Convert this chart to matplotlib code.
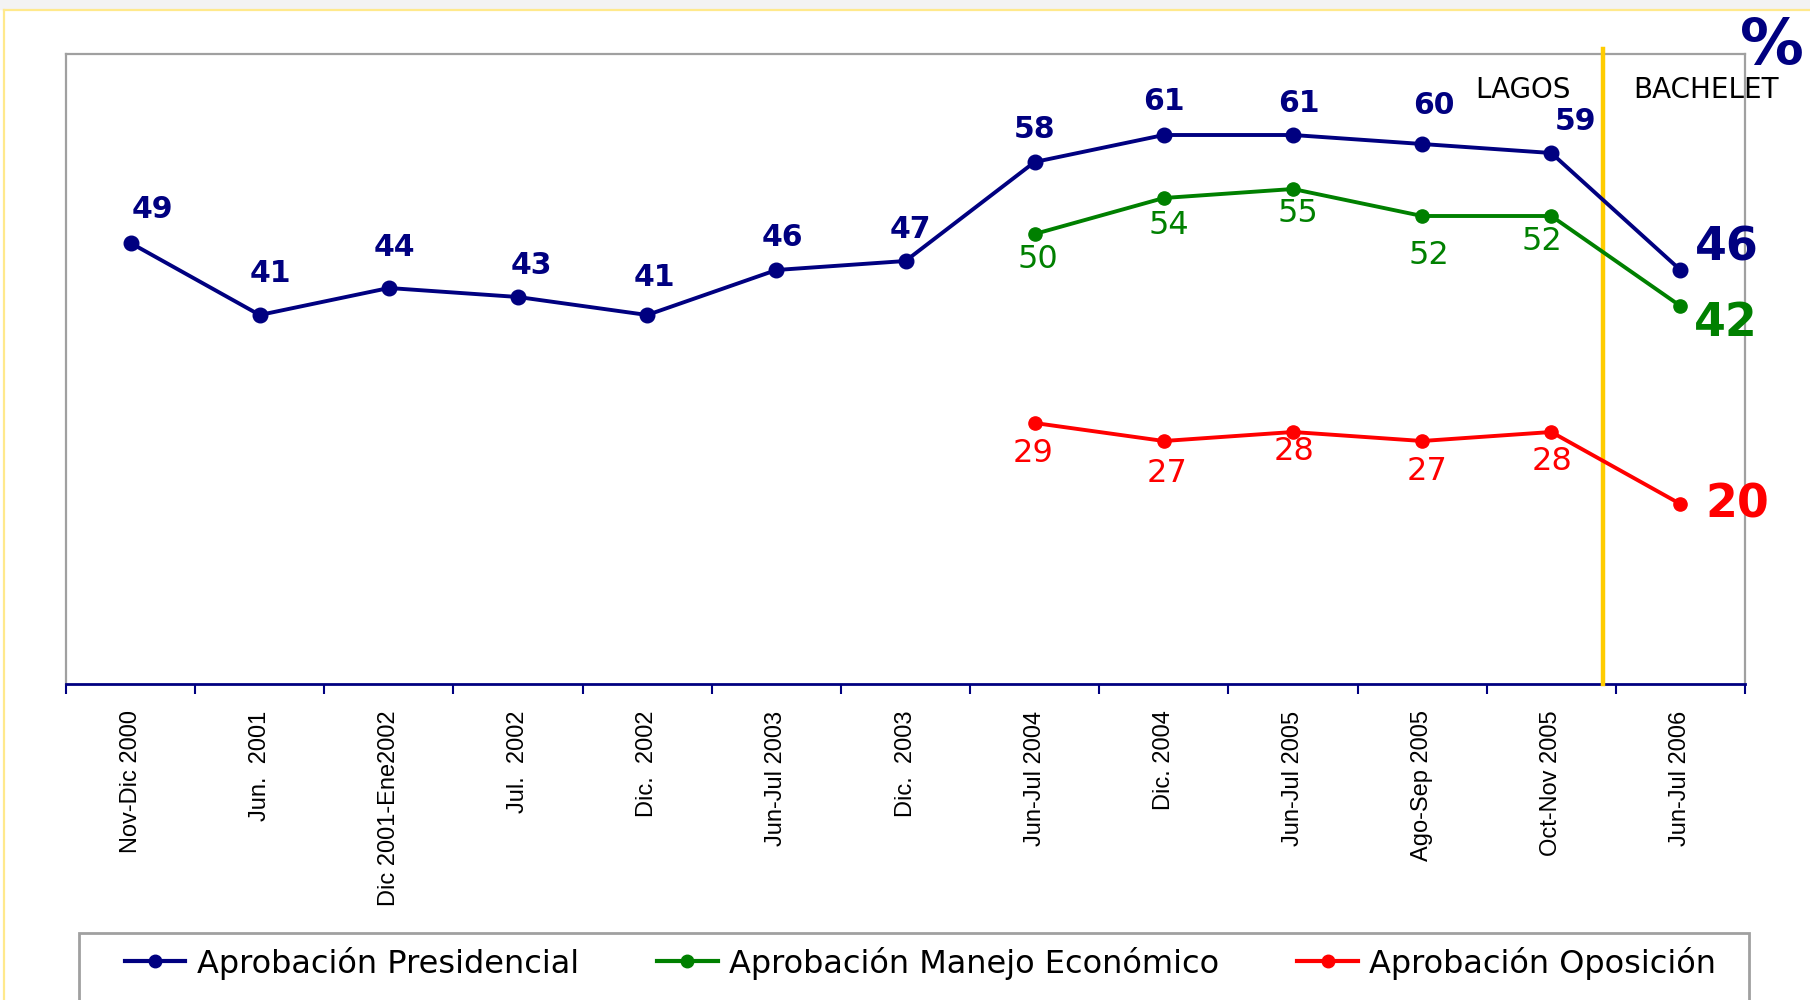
import numpy as np
import matplotlib.pyplot as plt
from matplotlib.lines import Line2D
from matplotlib.patches import Rectangle

# ---------------------------
# DATA
# ---------------------------
periods = [
    "Nov-Dic 2000", "Jun.  2001", "Dic 2001-Ene2002", "Jul.  2002", "Dic.  2002",
    "Jun-Jul 2003", "Dic.  2003", "Jun-Jul 2004", "Dic. 2004", "Jun-Jul 2005",
    "Ago-Sep 2005", "Oct-Nov 2005", "Jun-Jul 2006",
]
presidencial = [49, 41, 44, 43, 41, 46, 47, 58, 61, 61, 60, 59, 46]
economico = [np.nan] * 7 + [50, 54, 55, 52, 52, 42]
oposicion = [np.nan] * 7 + [29, 27, 28, 27, 28, 20]

series_names = ["Aprobación Presidencial", "Aprobación Manejo Económico", "Aprobación Oposición"]
eras = ["LAGOS", "BACHELET"]

# ---------------------------
# STYLE / LAYOUT
# ---------------------------
NAVY = "#000080"
GREEN = "#008000"
RED = "#FF0000"
GOLD = "#FFCC00"
GRAY = "#A0A0A0"
DIVIDER_X = 11.4
PX = 0.72  # px -> pt at dpi 100
W, H = 1810, 1000

# label offsets in px (dx right, dy down)
pres_off = [(22, -34), (11, -42), (5, -41), (13, -31), (7, -38), (6, -33), (5, -32),
            (0, -32), (0, -34), (6, -32), (12, -39), (24, -32), (46, -22)]
eco_off = [None] * 7 + [(3, 25), (5, 28), (5, 25), (7, 39), (-9, 25), (45, 17)]
opo_off = [None] * 7 + [(-2, 31), (3, 33), (1, 20), (5, 31), (1, 30), (57, 1)]

plt.rcParams["font.family"] = ["DejaVu Sans"]

fig = plt.figure(figsize=(W / 100, H / 100), dpi=100)
ax = fig.add_axes([66 / W, 1 - 684 / H, (1745 - 66) / W, (684 - 54) / H])

x = np.arange(len(periods))

ax.plot(x, presidencial, color=NAVY, lw=2.8, marker="o", ms=10.5, zorder=4)
ax.plot(x, economico, color=GREEN, lw=2.8, marker="o", ms=9.5, zorder=4)
ax.plot(x, oposicion, color=RED, lw=2.8, marker="o", ms=9.5, zorder=4)


def put_labels(vals, offs, color, small_size, small_bold):
    last = len(vals) - 1
    for i, v in enumerate(vals):
        if np.isnan(v):
            continue
        dx, dy = offs[i]
        big = i == last
        ax.annotate(f"{v:.0f}", (x[i], v), xytext=(dx * PX, -dy * PX),
                    textcoords="offset points", ha="center", va="center",
                    color=color, fontsize=33 if big else small_size,
                    fontweight="bold" if (big or small_bold) else "normal",
                    annotation_clip=False, zorder=5)


put_labels(np.array(presidencial, float), pres_off, NAVY, 21.5, True)
put_labels(np.array(economico, float), eco_off, GREEN, 23, False)
put_labels(np.array(oposicion, float), opo_off, RED, 23, False)

ax.set_xlim(-0.5, len(periods) - 0.5)
ax.set_ylim(0, 70)

# divider between presidencies
ax.plot([DIVIDER_X, DIVIDER_X], [0, 70.6], color=GOLD, lw=3.2, clip_on=False, zorder=3)
ax.text(DIVIDER_X - 0.62, 66.0, eras[0], ha="center", va="center", fontsize=20, color="black")
ax.text(DIVIDER_X + 0.8, 66.0, eras[1], ha="center", va="center", fontsize=20, color="black")

# axis styling
for s in ["left", "top", "right"]:
    ax.spines[s].set_color(GRAY)
    ax.spines[s].set_linewidth(1.6)
ax.spines["bottom"].set_color(NAVY)
ax.spines["bottom"].set_linewidth(2)
ax.set_yticks([])
ax.set_xticks(np.arange(-0.5, len(periods), 1))
ax.set_xticklabels([])
ax.tick_params(axis="x", which="major", direction="out", length=7, width=1.5, color=NAVY)
ax.set_xticks(x, minor=True)
ax.set_xticklabels(periods, minor=True, rotation=90, fontsize=17,
                   family=["Liberation Sans", "DejaVu Sans"])
ax.tick_params(axis="x", which="minor", length=0, pad=19)

# percent sign
fig.text(1772 / W, 1 - 46 / H, "%", ha="center", va="center",
         fontsize=46, fontweight="bold", color=NAVY)

# page remnants: grey strip on top and pale yellow frame
fig.patches.append(Rectangle((0, 1 - 9 / H), 1, 9 / H, transform=fig.transFigure,
                             color="#F3F3F3", zorder=0))
fig.lines.append(Line2D([4 / W, 1], [1 - 10 / H, 1 - 10 / H],
                        transform=fig.transFigure, color="#FFE98C", lw=1.6))
fig.lines.append(Line2D([4 / W, 4 / W], [0, 1 - 10 / H],
                        transform=fig.transFigure, color="#FFE98C", lw=1.6))

# legend frame (runs off the bottom of the picture)
fig.patches.append(Rectangle((79 / W, -0.05), (1749 - 79) / W, 0.05 + (H - 933) / H,
                             transform=fig.transFigure, facecolor="white",
                             edgecolor=GRAY, lw=2, zorder=1))

handles = [Line2D([], [], color=c, lw=3, marker="o", ms=9) for c in (NAVY, GREEN, RED)]
leg = fig.legend(handles, series_names, loc="upper left", ncol=3, mode="expand",
                 bbox_to_anchor=(115 / W, 1 - 937 / H, (1726 - 115) / W, 0),
                 borderaxespad=0, fontsize=23, handlelength=1.9, handletextpad=0.36,
                 borderpad=0.3, frameon=False)
leg.set_zorder(2)

fig.savefig("out.png", dpi=100)
